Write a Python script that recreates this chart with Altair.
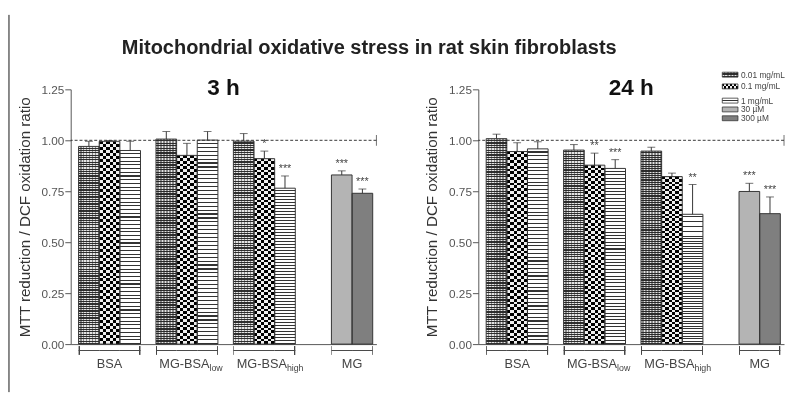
import altair as alt
import pandas as pd

# ---------------- data ----------------
groups = ["BSA", "MG-BSA low", "MG-BSA high", "MG"]
group_main = ["BSA", "MG-BSA", "MG-BSA", "MG"]
group_sub = ["", "low", "high", ""]
series = ["0.01 mg/mL", "0.1 mg/mL", "1 mg/mL", "30 µM", "300 µM"]
series_slot = ["a", "b", "c", "b", "c"]
slots = ["a", "b", "c"]

# 3 h : values for BSA, MG-BSA low, MG-BSA high
h3_c001 = [0.970, 1.006, 0.996]
h3_c001_err = [0.025, 0.037, 0.037]
h3_c001_sig = ["", "", ""]
h3_c01 = [0.995, 0.926, 0.910]
h3_c01_err = [0.004, 0.059, 0.037]
h3_c01_sig = ["", "", "*"]
h3_c1 = [0.950, 1.001, 0.765]
h3_c1_err = [0.045, 0.042, 0.060]
h3_c1_sig = ["", "", "***"]
h3_mg = [0.830, 0.740]
h3_mg_err = [0.020, 0.021]
h3_mg_sig = ["***", "***"]

# 24 h
h24_c001 = [1.008, 0.952, 0.947]
h24_c001_err = [0.022, 0.027, 0.019]
h24_c001_sig = ["", "", ""]
h24_c01 = [0.945, 0.878, 0.822]
h24_c01_err = [0.043, 0.059, 0.017]
h24_c01_sig = ["", "**", ""]
h24_c1 = [0.958, 0.862, 0.637]
h24_c1_err = [0.035, 0.043, 0.146]
h24_c1_sig = ["", "***", "**"]
h24_mg = [0.749, 0.640]
h24_mg_err = [0.040, 0.082]
h24_mg_sig = ["***", "***"]


def build(c001, e001, s001, c01, e01, s01, c1, e1, s1, mg, emg, smg):
    rows = []
    trip = [(c001, e001, s001), (c01, e01, s01), (c1, e1, s1)]
    for gi, g in enumerate(groups[:3]):
        for si, (m, e, s) in enumerate(trip):
            rows.append(dict(group=g, series=series[si], slot=series_slot[si],
                             mean=m[gi], err=e[gi], sig=s[gi]))
    for j in range(2):
        rows.append(dict(group="MG", series=series[3 + j], slot=series_slot[3 + j],
                         mean=mg[j], err=emg[j], sig=smg[j]))
    df = pd.DataFrame(rows)
    df["upper"] = df["mean"] + df["err"]
    return df


df3 = build(h3_c001, h3_c001_err, h3_c001_sig, h3_c01, h3_c01_err, h3_c01_sig,
            h3_c1, h3_c1_err, h3_c1_sig, h3_mg, h3_mg_err, h3_mg_sig)
df24 = build(h24_c001, h24_c001_err, h24_c001_sig, h24_c01, h24_c01_err, h24_c01_sig,
             h24_c1, h24_c1_err, h24_c1_sig, h24_mg, h24_mg_err, h24_mg_sig)
df_lab = pd.DataFrame({"group": groups, "main": group_main, "sub": group_sub})

# ---------------- styles ----------------
W, H = 312, 260
FONT = "Liberation Sans"


def stripes(n, c1, c2, duty, along_y=True):
    stops = []
    for i in range(n):
        a, b, c = i / n, (i + duty) / n, (i + 1) / n
        stops += [(a, c1), (b, c1), (b, c2), (c, c2)]
    return {"gradient": "linear", "x1": 0, "y1": 0,
            "x2": 0 if along_y else 1, "y2": 1 if along_y else 0,
            "stops": [{"offset": round(o, 6), "color": col} for o, col in stops]}


def edge(left=True):
    t = "rgba(0,0,0,0)"
    k = "#444444"
    st = [(0, k), (0.05, k), (0.05, t), (1, t)] if left else [(0, t), (0.95, t), (0.95, k), (1, k)]
    return {"gradient": "linear", "x1": 0, "y1": 0, "x2": 1, "y2": 0,
            "stops": [{"offset": o, "color": c} for o, c in st]}


# each pattern is a list of (fill, blend) layers
patterns = {
    "0.01 mg/mL": [(stripes(85, "#e4e4e4", "#303030", 0.5), None),
                   (stripes(7, "#000000", "#5a5a5a", 0.5, along_y=False), "difference")],
    "0.1 mg/mL": [(stripes(34, "#ffffff", "#111111", 0.5), None),
                  (stripes(3, "#ffffff", "#111111", 0.5, along_y=False), "difference")],
    "1 mg/mL": [(stripes(52, "#ffffff", "#333333", 0.7), None)],
    "30 µM": [("#b4b4b4", None)],
    "300 µM": [("#7f7f7f", None)],
}
legend_patterns = {
    "0.01 mg/mL": [(stripes(2, "#e4e4e4", "#303030", 0.5), None),
                   (stripes(5, "#000000", "#5a5a5a", 0.5, along_y=False), "difference")],
    "0.1 mg/mL": [(stripes(1, "#ffffff", "#111111", 0.5), None),
                  (stripes(4, "#ffffff", "#111111", 0.5, along_y=False), "difference")],
    "1 mg/mL": [({"gradient": "linear", "x1": 0, "y1": 0, "x2": 0, "y2": 1,
                  "stops": [{"offset": 0, "color": "#ffffff"}, {"offset": 0.4, "color": "#ffffff"},
                            {"offset": 0.4, "color": "#333333"}, {"offset": 0.6, "color": "#333333"},
                            {"offset": 0.6, "color": "#ffffff"}, {"offset": 1, "color": "#ffffff"}]}, None)],
    "30 µM": [("#b4b4b4", None)],
    "300 µM": [("#7f7f7f", None)],
}
legend_y = [-15, -3, 11.5, 20.5, 29.5]

xscale = alt.Scale(domain=groups, paddingInner=0.2, paddingOuter=0.0747, align=0.68)
oscale = alt.Scale(domain=slots, paddingInner=0, paddingOuter=0)
yscale = alt.Scale(domain=[0, 1.25], nice=False, zero=True)
xaxis = alt.Axis(labels=False, ticks=False, title=None, grid=False, domainColor="#555555")
yaxis = alt.Axis(values=[0, 0.25, 0.5, 0.75, 1.0, 1.25], format=".2f", grid=False,
                 tickSize=6, labelPadding=1, labelFontSize=12, labelColor="#555555",
                 tickColor="#555555", domainColor="#555555",
                 title="MTT reduction / DCF oxidation ratio", titleFontSize=15.5,
                 titleFontWeight="normal", titleColor="#333333", titlePadding=9)
one = pd.DataFrame({"k": [0]})
SLOT = 79 * 0.8 / 3


def panel(df, title, border, legend):
    X = alt.X("group:N", scale=xscale, title=None, axis=xaxis)
    XO = alt.XOffset("slot:N", scale=oscale)
    Ym = alt.Y("mean:Q", scale=yscale, axis=yaxis)
    Yu = alt.Y("upper:Q", scale=yscale, axis=yaxis)
    base = alt.Chart(df).encode(x=X, xOffset=XO)
    layers = []
    for s in series:
        sub = base.transform_filter(alt.datum.series == s)
        for f, blend in patterns[s]:
            kw = dict(fill=f, strokeWidth=0)
            if blend:
                kw["blend"] = blend
            layers.append(sub.mark_bar(**kw).encode(y=Ym))
    layers.append(base.mark_bar(fillOpacity=0, stroke="#333333", strokeWidth=1).encode(y=Ym))
    layers.append(base.mark_rule(color="#333333").encode(y=Ym, y2="upper:Q"))
    layers.append(base.mark_tick(orient="horizontal", size=8, thickness=1,
                                 color="#333333").encode(y=Yu))
    layers.append(base.mark_text(baseline="bottom", dy=-2, fontSize=11,
                                 color="#444444").encode(y=Yu, text="sig:N"))
    # reference line at 1.0
    ref = alt.Chart(one)
    layers.append(ref.mark_rule(strokeDash=[3, 2], color="#333333", strokeWidth=1)
                  .encode(y=alt.datum(1.0)))
    layers.append(ref.mark_tick(orient="vertical", size=11, thickness=1, color="#333333")
                  .encode(x=alt.value(W), y=alt.datum(1.0)))
    # group brackets
    layers.append(base.mark_bar(color="#444444").encode(y=alt.value(266), y2=alt.value(267)))
    layers.append(base.transform_filter((alt.datum.slot == "a") | (alt.datum.series == "30 µM"))
                  .mark_bar(fill=edge(True), strokeWidth=0)
                  .encode(y=alt.value(262), y2=alt.value(271)))
    layers.append(base.transform_filter(alt.datum.slot == "c")
                  .mark_bar(fill=edge(False), strokeWidth=0)
                  .encode(y=alt.value(262), y2=alt.value(271)))
    # group labels
    lab = alt.Chart(df_lab).encode(x=X, y=alt.value(280))
    tkw = dict(fontSize=13, color="#444444", baseline="middle")
    layers.append(lab.transform_filter(alt.datum.group == "BSA")
                  .mark_text(align="center", **tkw).encode(text="main:N"))
    layers.append(lab.transform_filter(alt.datum.group == "MG")
                  .mark_text(align="center", dx=SLOT / 2, **tkw).encode(text="main:N"))
    layers.append(lab.transform_filter(alt.datum.sub != "")
                  .mark_text(align="right", dx=23, **tkw).encode(text="main:N"))
    layers.append(lab.transform_filter(alt.datum.sub != "")
                  .mark_text(align="left", dx=23, dy=4, fontSize=9, color="#444444",
                             baseline="middle").encode(text="sub:N"))
    # panel title
    layers.append(ref.mark_text(fontSize=23, fontWeight="bold", color="#111111",
                                align="center", baseline="alphabetic")
                  .encode(x=alt.value(W / 2), y=alt.value(6), text=alt.value(title)))
    if border:
        layers.append(ref.mark_rule(color="#111111", strokeWidth=1)
                      .encode(x=alt.value(-63), y=alt.value(-76), y2=alt.value(309)))
    if legend:
        for i, s in enumerate(series):
            yc = legend_y[i]
            for f, blend in legend_patterns[s]:
                kw = dict(fill=f, strokeWidth=0)
                if blend:
                    kw["blend"] = blend
                layers.append(ref.mark_rect(**kw).encode(
                    x=alt.value(249), x2=alt.value(265),
                    y=alt.value(yc - 2.5), y2=alt.value(yc + 2.5)))
            layers.append(ref.mark_rect(fillOpacity=0, stroke="#333333", strokeWidth=0.8).encode(
                x=alt.value(249), x2=alt.value(265),
                y=alt.value(yc - 2.5), y2=alt.value(yc + 2.5)))
            layers.append(ref.mark_text(align="left", baseline="middle", fontSize=8.5,
                                        color="#444444").encode(
                x=alt.value(268), y=alt.value(yc), text=alt.value(s)))
    return alt.layer(*layers).properties(width=W, height=H)


left = panel(df3, "3 h", True, False)
right = panel(df24, "24 h", False, True)

chart = alt.hconcat(left, right, spacing=48).properties(
    title=alt.TitleParams(text="Mitochondrial oxidative stress in rat skin fibroblasts",
                          fontSize=20.4, fontWeight="bold", color="#222222", font=FONT,
                          anchor="middle", offset=-45, dx=-28),
    padding={"left": 0, "top": 2, "right": 0, "bottom": 2},
).configure(font=FONT, background="white").configure_view(stroke=None)

chart.save("out.html", embed_options={"renderer": "svg", "actions": False})
